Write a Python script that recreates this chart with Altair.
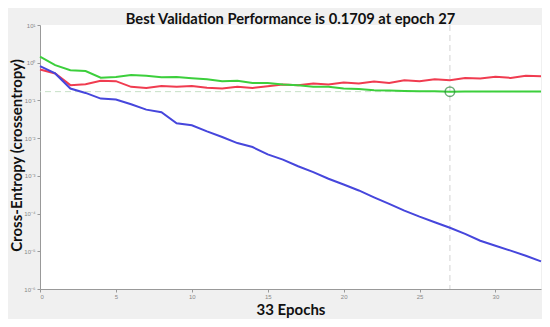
import altair as alt
import pandas as pd

epochs = list(range(34))
train = [0.81, 0.52, 0.207, 0.158, 0.112, 0.106, 0.079, 0.057, 0.0485, 0.0248,
         0.0219, 0.0151, 0.0107, 0.0074, 0.0058, 0.0037, 0.0027, 0.0018, 0.00126, 0.00084,
         0.00059, 0.00041, 0.00027, 0.00018, 0.00012, 8.3e-5, 5.9e-5, 4.2e-5, 2.9e-5, 1.9e-5,
         1.4e-5, 1.04e-5, 7.6e-6, 5.4e-6]
validation = [1.44, 0.86, 0.635, 0.60, 0.40, 0.42, 0.47, 0.45, 0.41, 0.42,
              0.39, 0.366, 0.324, 0.33, 0.29, 0.29, 0.265, 0.254, 0.229, 0.229,
              0.207, 0.202, 0.187, 0.182, 0.178, 0.176, 0.174, 0.1709, 0.1712, 0.1715,
              0.172, 0.1722, 0.1725, 0.173]
test = [0.66, 0.52, 0.254, 0.27, 0.33, 0.324, 0.229, 0.215, 0.243, 0.229,
        0.243, 0.218, 0.207, 0.229, 0.215, 0.239, 0.265, 0.254, 0.282, 0.265,
        0.299, 0.282, 0.318, 0.29, 0.344, 0.324, 0.366, 0.344, 0.396, 0.382,
        0.422, 0.396, 0.449, 0.44]
best_epoch = 27
best_val = 0.1709
x_ticks = [0, 5, 10, 15, 20, 25, 30]
y_ticks = [1e-6, 1e-5, 1e-4, 1e-3, 1e-2, 1e-1, 1e0, 1e1]

rows = []
for name, vals in [("Test", test), ("Validation", validation), ("Train", train)]:
    for e, v in zip(epochs, vals):
        rows.append({"epoch": e, "value": v, "series": name})
df = pd.DataFrame(rows)

xscale = alt.Scale(domain=[0, 33], nice=False, zero=False)
yscale = alt.Scale(type="log", domain=[1e-6, 10], nice=False)

sup = "['⁰','¹','²','³','⁴','⁵','⁶','⁷']"
exp = "round(log(datum.value)/LN10)"
label_expr = f"'10' + ({exp} < 0 ? '⁻' : '') + {sup}[abs({exp})]"

x_axis = alt.Axis(values=x_ticks, title="33 Epochs", grid=False, labelFontSize=6,
                  labelColor="#888888", tickColor="#999999", tickSize=3,
                  domainColor="#999999", titleFont="Lato", titleFontSize=15,
                  titleFontWeight="bold", titleColor="#111111", titleY=20,
                  titleBaseline="middle", labelPadding=1)
y_axis = alt.Axis(values=y_ticks, labelExpr=label_expr, title="Cross-Entropy (crossentropy)",
                  grid=False, labelFontSize=6, labelColor="#888888", tickColor="#999999",
                  tickSize=3, domainColor="#999999", titleFont="Lato", titleFontSize=15,
                  titleFontWeight="bold", titleColor="#111111", titleX=-24, titleY=130,
                  titleAngle=270, titleBaseline="middle", titleAlign="center", labelPadding=2)

lines = alt.Chart(df).mark_line(strokeWidth=2).encode(
    x=alt.X("epoch:Q", scale=xscale, axis=x_axis),
    y=alt.Y("value:Q", scale=yscale, axis=y_axis),
    color=alt.Color("series:N", legend=None,
                    scale=alt.Scale(domain=["Train", "Validation", "Test"],
                                    range=["#4646dc", "#3ccf3c", "#f03c50"])),
    order=alt.Order("epoch:Q"),
    detail="series:N",
)

best_df = pd.DataFrame({"epoch": [best_epoch], "value": [best_val]})

vrule = alt.Chart(best_df).mark_rule(color="#d4d4d4", strokeDash=[6, 4], strokeWidth=1).encode(
    x=alt.X("epoch:Q", scale=xscale))
hrule = alt.Chart(best_df).mark_rule(color="#c6e0c6", strokeDash=[6, 4], strokeWidth=1).encode(
    y=alt.Y("value:Q", scale=yscale))
circle = alt.Chart(best_df).mark_point(shape="circle", size=90, filled=False,
                                      color="#2e8b3e", strokeWidth=1.5).encode(
    x=alt.X("epoch:Q", scale=xscale),
    y=alt.Y("value:Q", scale=yscale))

chart = alt.layer(vrule, hrule, lines, circle).properties(
    width=501, height=264,
    title=alt.TitleParams("Best Validation Performance is 0.1709 at epoch 27",
                          font="Lato", fontSize=14.7, fontWeight="bold", color="#111111",
                          offset=0, dy=5),
    background="#f0f0f0",
    padding={"left": 32, "top": 17, "right": 1, "bottom": 30},
    autosize="none",
).configure_view(fill="white", stroke=None)

chart.save("out.html", embed_options={"renderer": "svg", "actions": False})
